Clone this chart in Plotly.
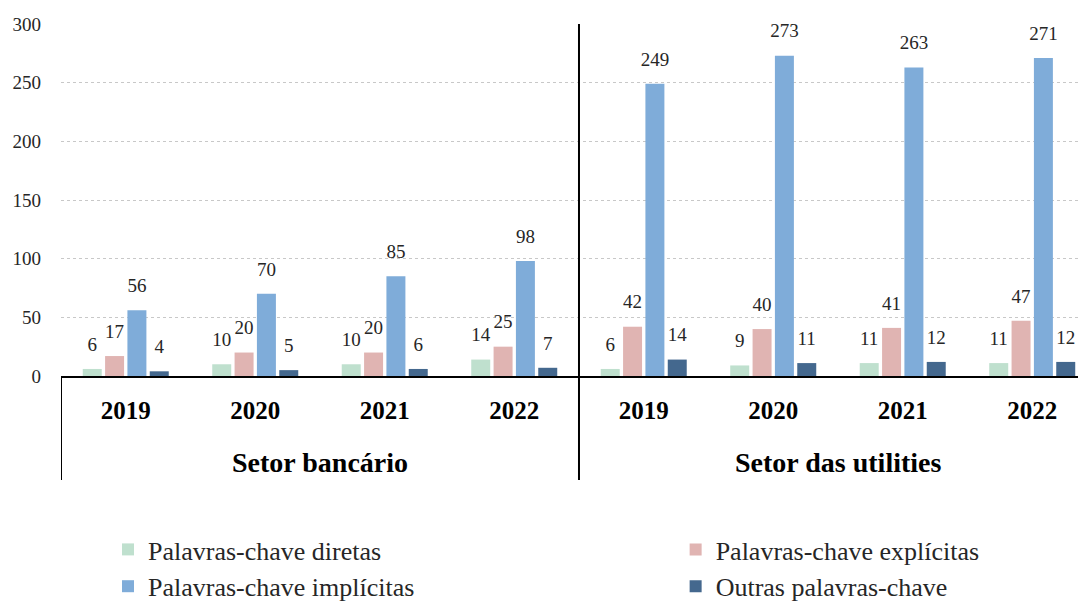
import plotly.graph_objects as go

sectors = ["Setor bancário", "Setor das utilities"]
years = ["2019", "2020", "2021", "2022"]
series_names = ["Palavras-chave diretas", "Palavras-chave explícitas",
                "Palavras-chave implícitas", "Outras palavras-chave"]
diretas = [6, 10, 10, 14, 6, 9, 11, 11]
explicitas = [17, 20, 20, 25, 42, 40, 41, 47]
implicitas = [56, 70, 85, 98, 249, 273, 263, 271]
outras = [4, 5, 6, 7, 14, 11, 12, 12]
colors = ["#BFE0CE", "#E0B4B2", "#7FACD9", "#44688E"]
legend_ids = ["legend", "legend2", "legend", "legend2"]

cats = [f"{i}-{y}" for i, s in enumerate(sectors) for y in years]
tick_text = [y for s in sectors for y in years]
values = [diretas, explicitas, implicitas, outras]

FONT = "'Liberation Serif', 'Times New Roman', serif"
fig = go.Figure()
for name, vals, col, lg in zip(series_names, values, colors, legend_ids):
    fig.add_trace(go.Bar(x=cats, y=vals, name=name, marker=dict(color=col, line=dict(width=0)),
                         legend=lg, offsetgroup=name, hoverinfo="skip"))
for name, vals in zip(series_names, values):
    fig.add_trace(go.Scatter(x=cats, y=vals, mode="markers+text", text=[str(v) for v in vals],
                             textposition="top center", offsetgroup=name,
                             marker=dict(size=20, opacity=0), showlegend=False,
                             textfont=dict(family=FONT, size=19, color="#262626"),
                             hoverinfo="skip", cliponaxis=False))

# page body has an 8px default margin, so figure coords = window coords - 8
fig.update_layout(
    width=1086, height=605,
    margin=dict(l=53, r=0, t=16, b=237),
    paper_bgcolor="white", plot_bgcolor="white",
    barmode="group", bargap=0.31, bargroupgap=0.15,
    scattermode="group", scattergap=0.31,
    font=dict(family=FONT, color="#262626"),
    xaxis=dict(type="category", range=[-0.5, 7.477], tickvals=cats, ticktext=tick_text,
               showline=True, linecolor="black", linewidth=2, ticks="",
               tickfont=dict(family=FONT, size=25, color="black", weight="bold"),
               ticklabelstandoff=11, showgrid=False, fixedrange=True, automargin=False),
    yaxis=dict(range=[0, 300], dtick=50, showgrid=True, gridcolor="#C8C8C8", griddash="dot",
               gridwidth=1, zeroline=False, showline=False, ticks="",
               tickfont=dict(family=FONT, size=19, color="#262626"),
               ticklabelstandoff=19, fixedrange=True, automargin=False),
    legend=dict(x=0.0455, y=(376 - 610) / 352, xanchor="left", yanchor="bottom", orientation="v",
                font=dict(family=FONT, size=26, color="#262626"), bgcolor="rgba(0,0,0,0)",
                tracegroupgap=0, itemwidth=30),
    legend2=dict(x=0.595, y=(376 - 610) / 352, xanchor="left", yanchor="bottom", orientation="v",
                 font=dict(family=FONT, size=26, color="#262626"), bgcolor="rgba(0,0,0,0)",
                 tracegroupgap=0, itemwidth=30),
    showlegend=True,
)

# group divider lines
y_bottom = (376 - 480) / 352
fig.add_shape(type="line", xref="x", yref="paper", x0=3.5, x1=3.5, y0=1, y1=y_bottom,
              line=dict(color="black", width=2))
fig.add_shape(type="line", xref="x", yref="paper", x0=-0.5, x1=-0.5, y0=0, y1=y_bottom,
              line=dict(color="black", width=2))

for i, s in enumerate(sectors):
    fig.add_annotation(x=1.5 + 4 * i, y=(376 - 462) / 352, xref="x", yref="paper",
                       text=f"<b>{s}</b>", showarrow=False, yanchor="middle",
                       font=dict(family=FONT, size=28, color="black"))

fig.write_html("out.html")
